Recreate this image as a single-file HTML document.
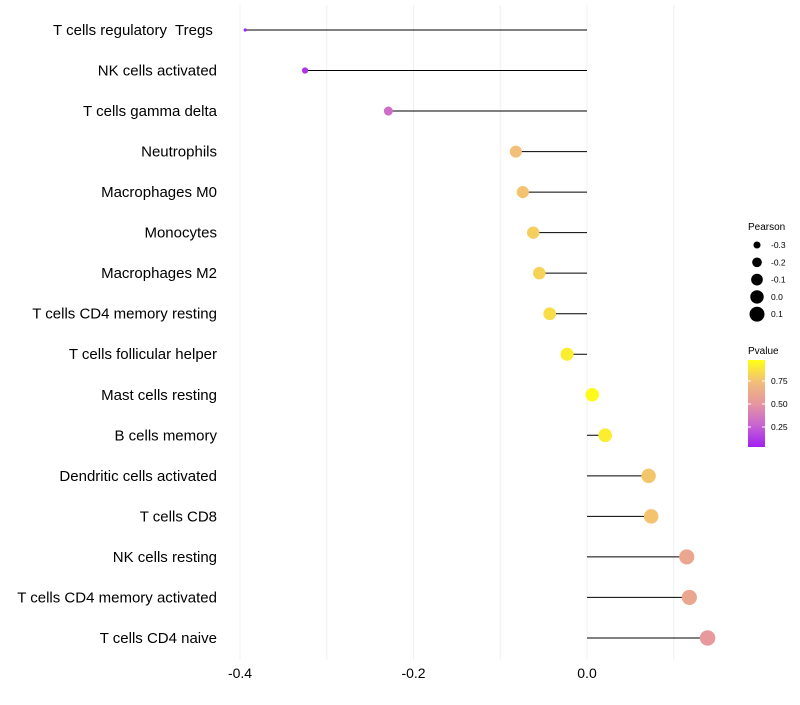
<!DOCTYPE html>
<html><head><meta charset="utf-8"><style>
body{margin:0;background:#fff;font-family:"Liberation Sans",sans-serif}
svg text{font-family:"Liberation Sans",sans-serif;white-space:pre}
</style></head><body>
<svg id="chart" width="800" height="700"></svg>
<script>
const categories=["T cells regulatory  Tregs ","NK cells activated","T cells gamma delta","Neutrophils","Macrophages M0","Monocytes","Macrophages M2","T cells CD4 memory resting","T cells follicular helper","Mast cells resting","B cells memory","Dendritic cells activated","T cells CD8","NK cells resting","T cells CD4 memory activated","T cells CD4 naive"];
const pearson=[-0.394,-0.325,-0.229,-0.082,-0.074,-0.062,-0.055,-0.043,-0.023,0.006,0.021,0.071,0.074,0.115,0.118,0.139];
const pvalue=[0.01,0.08,0.3,0.75,0.77,0.81,0.83,0.87,0.93,0.98,0.93,0.78,0.77,0.6,0.6,0.52];
const xTicks=[-0.4,-0.2,0.0];
const xMinor=[-0.3,-0.1,0.1];
const sizeLegend=[-0.3,-0.2,-0.1,0.0,0.1];
const pLegend=[0.75,0.5,0.25];

const NS="http://www.w3.org/2000/svg";
const svg=document.getElementById('chart');
function mk(t,a,p){const e=document.createElementNS(NS,t);for(const k in a)e.setAttribute(k,a[k]);(p||svg).appendChild(e);return e;}
const x=v=>587+(v-0)*867.5;
const y=i=>30+i*40.53;
const minV=Math.min(...pearson),maxV=Math.max(...pearson);
const r=v=>Math.sqrt(2.5+(v-minV)/(maxV-minV)*(60-2.5));
const stops=[[0,[160,32,240]],[0.25,[200,100,210]],[0.5,[230,150,160]],[0.75,[242,190,120]],[1,[255,255,20]]];
function col(p){for(let i=1;i<stops.length;i++){if(p<=stops[i][0]){const a=stops[i-1],b=stops[i],t=(p-a[0])/(b[0]-a[0]);const c=a[1].map((v,k)=>Math.round(v+(b[1][k]-v)*t));return `rgb(${c})`;}}return 'rgb(255,255,20)';}

[...xTicks,...xMinor].forEach(v=>{
 const g=mk('line',{x1:x(v),x2:x(v),y1:5,y2:660,stroke:'#f0f0f0','stroke-width':1});
 
 
});
xTicks.forEach(v=>{
 const t=mk('text',{x:x(v),y:678,'text-anchor':'middle','font-size':14,fill:'#000'});
 t.textContent=v.toFixed(1);
 
 
});
categories.forEach((c,i)=>{
 const t=mk('text',{x:217,y:y(i)+5,'text-anchor':'end','font-size':15,fill:'#000'});
 t.textContent=c;
 
 
 const l=mk('line',{x1:x(0),x2:x(pearson[i]),y1:y(i),y2:y(i),stroke:'#000','stroke-width':1});
 
 
 const d=mk('circle',{cx:x(pearson[i]),cy:y(i),r:r(pearson[i]),fill:col(pvalue[i])});
 
 
});
const lt=mk('text',{x:748,y:230,'font-size':10});lt.textContent='Pearson';


sizeLegend.forEach((v,i)=>{
 const cy=245+i*17.3;
 const c=mk('circle',{cx:757,cy:cy,r:r(v),fill:'#000'});
 
 
 const t=mk('text',{x:771,y:cy+3,'font-size':8.5});t.textContent=v.toFixed(1);
 
 
});
const pt=mk('text',{x:748,y:354,'font-size':10});pt.textContent='Pvalue';


const defs=mk('defs',{});
const gr=mk('linearGradient',{id:'pg',x1:0,y1:1,x2:0,y2:0},defs);
stops.forEach(s=>mk('stop',{offset:s[0],'stop-color':`rgb(${s[1]})`},gr));
const bar=mk('rect',{x:748,y:360,width:17,height:87,fill:'url(#pg)'});


pLegend.forEach(v=>{
 const yy=450-v*92;
 mk('line',{x1:748,x2:751,y1:yy,y2:yy,stroke:'#fff'});
 mk('line',{x1:762,x2:765,y1:yy,y2:yy,stroke:'#fff'});
 const t=mk('text',{x:771,y:yy+3,'font-size':8.5});t.textContent=v.toFixed(2);
 
 
});
</script>
</body></html>
